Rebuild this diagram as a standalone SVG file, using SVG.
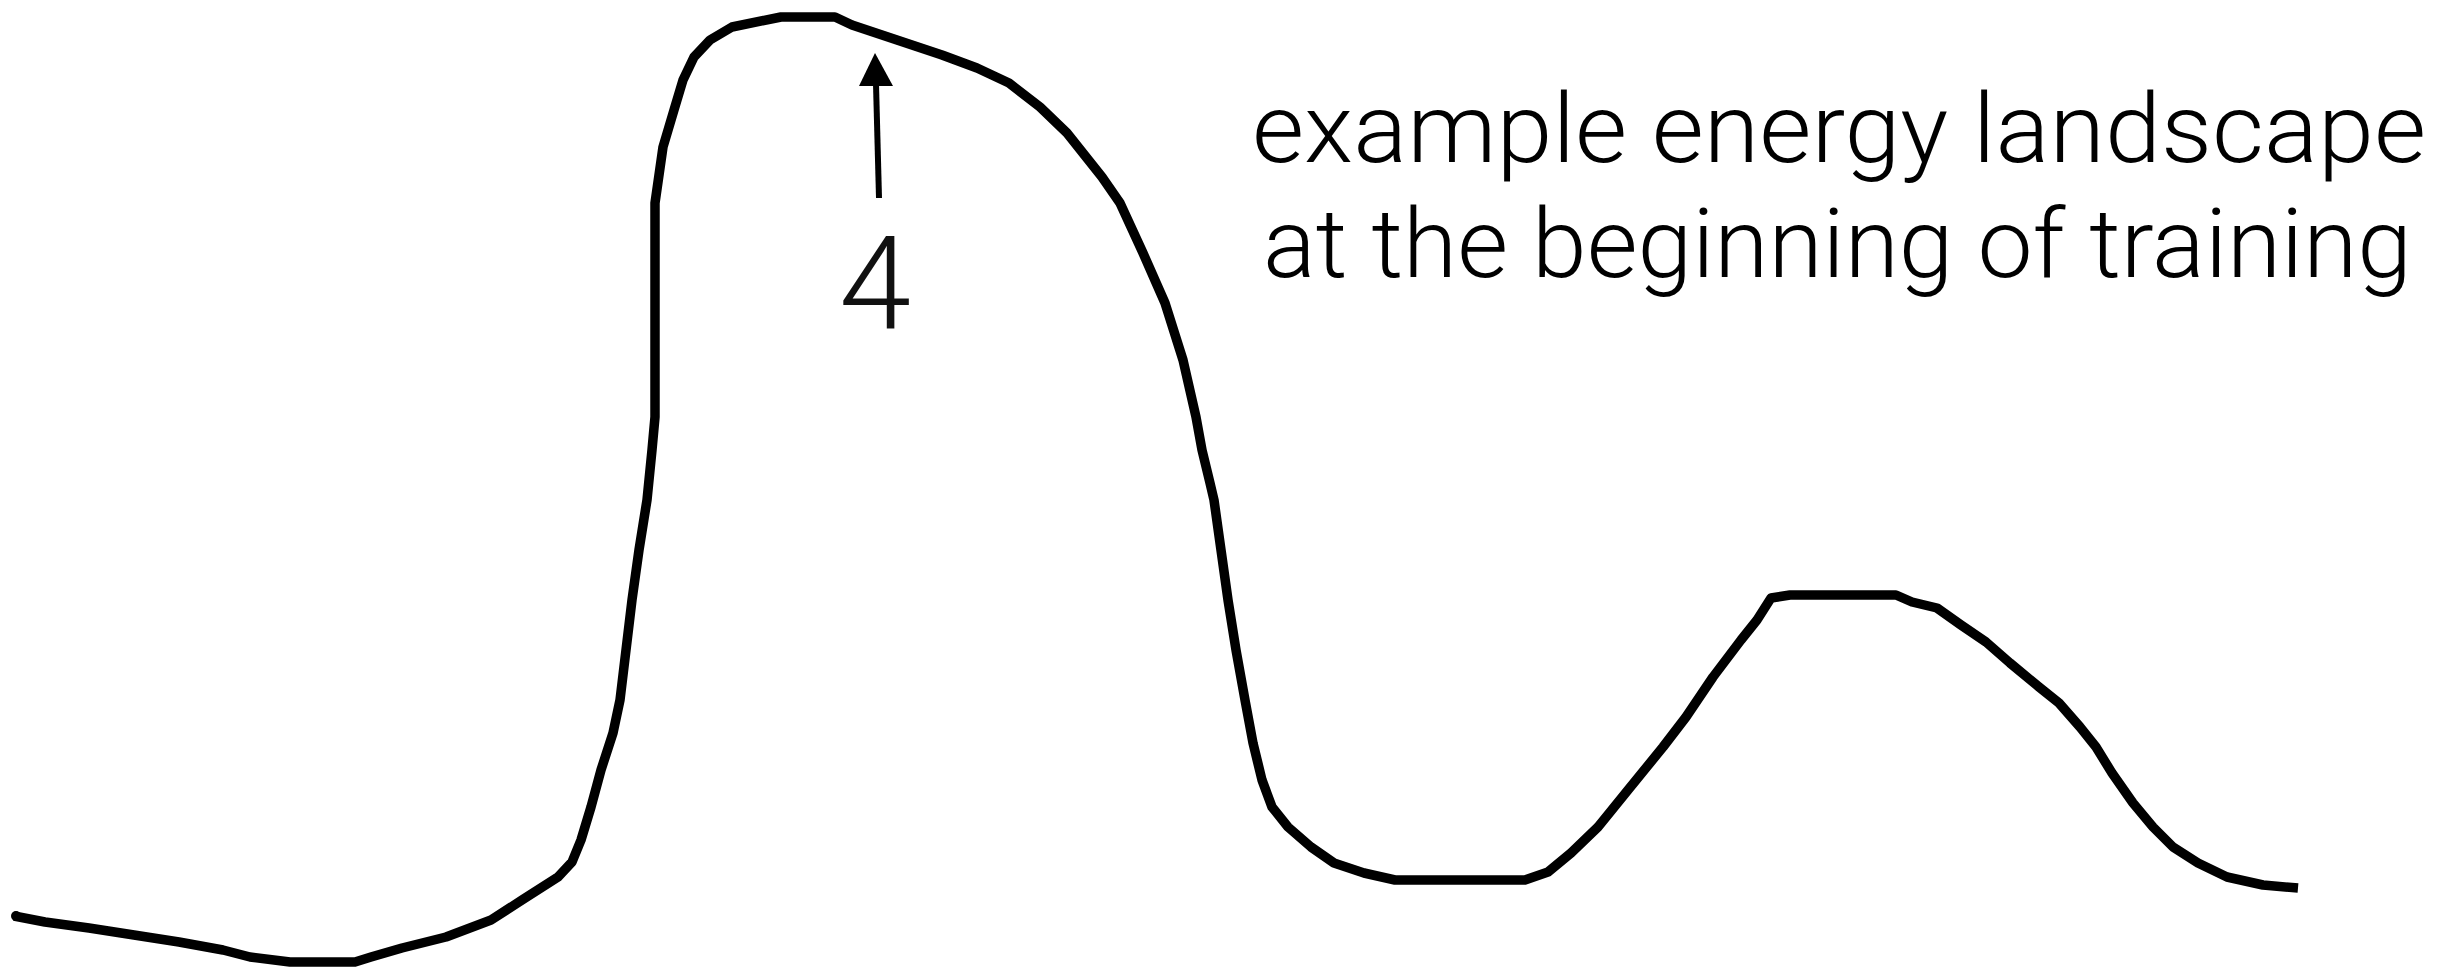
<svg xmlns="http://www.w3.org/2000/svg" width="2456" height="970" viewBox="0 0 2456 970">
  <style>
    .curve { fill: none; stroke: #000; stroke-width: 9.5; stroke-linejoin: round; stroke-linecap: butt; }
    .label { font-family: Roboto, "Liberation Sans", sans-serif; font-weight: 300; font-size: 97px; fill: #000; }
    .digit { font-family: Roboto, "Liberation Sans", sans-serif; font-weight: 300; font-size: 130px; fill: #111; }
    .arrow { stroke: #000; stroke-width: 6; fill: none; }
    .head { fill: #000; stroke: none; }
  </style>
  <rect width="2456" height="970" fill="#fff"/>
  <g id="landscape">
    <path class="curve" d="M14,916 L45,922 L89,928 L134,935 L179,942 L223,950 L250,957 L290,962 L355,962 L371,957 L402,948 L446,937 L491,920 L522,900 L558,877 L572,862 L581,840 L591,807 L601,770 L613,733 L620,700 L626,650 L632,600 L639,550 L647,500 L652,450 L655,417 L655,203 L663,147 L674,110 L683,80 L694,57 L710,40 L732,27 L781,17 L835,17 L852,25 L897,40 L942,55 L977,68 L1009,83 L1040,107 L1067,133 L1102,177 L1120,203 L1143,253 L1165,303 L1183,360 L1196,417 L1202,450 L1210,483 L1214,500 L1221,550 L1228,600 L1236,650 L1245,700 L1253,743 L1262,780 L1272,807 L1288,827 L1311,847 L1334,863 L1364,873 L1395,880 L1525,880 L1548,872 L1571,853 L1598,827 L1628,790 L1663,747 L1686,717 L1713,677 L1741,640 L1757,620 L1771,598 L1790,595 L1896,595 L1912,602 L1937,608 L1961,625 L1986,642 L2010,663 L2039,687 L2059,703 L2080,727 L2096,747 L2112,773 L2133,803 L2153,827 L2173,847 L2198,863 L2227,877 L2263,885 L2298,888"/>
    <circle cx="16" cy="916" r="5" fill="#000"/>
  </g>
  <g id="connectors">
    <line class="arrow" x1="879" y1="198" x2="876" y2="84"/>
    <polygon class="head" points="875,53 893,86 859,86"/>
  </g>
  <g id="digit-label">
    <text class="digit" x="875" y="328" text-anchor="middle">4</text>
  </g>
  <g id="caption">
    <text class="label" x="1252" y="162" textLength="1174" lengthAdjust="spacingAndGlyphs">example energy landscape</text>
    <text class="label" x="1263" y="277" textLength="1149" lengthAdjust="spacingAndGlyphs">at the beginning of training</text>
  </g>
</svg>
